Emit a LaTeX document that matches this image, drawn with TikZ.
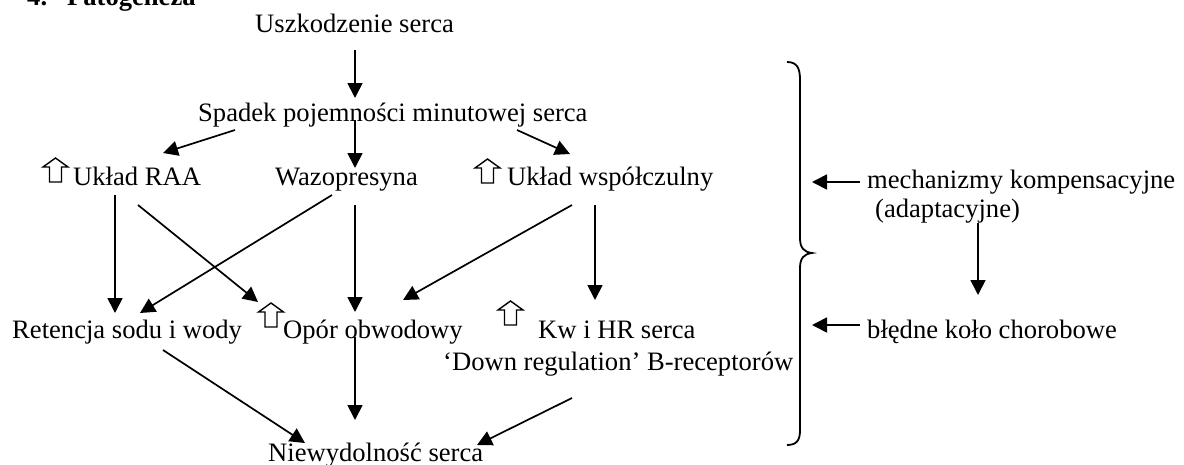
\documentclass[tikz,border=0pt]{standalone}
\usepackage{fontspec}
\setmainfont{Liberation Serif}
\usetikzlibrary{arrows.meta}
\begin{document}
\begin{tikzpicture}[x=1pt,y=-1pt,
  lbl/.style={anchor=base west,inner sep=0pt,font=\fontsize{26.6pt}{32pt}\selectfont},
  conn/.style={line width=1.7pt,-{Triangle[length=15pt,width=15pt]}},
  bracestyle/.style={line width=1.8pt},
  hollowup/.pic={\draw[line width=1.4pt,line join=miter] (-6,0) -- (-6,-15) -- (-12.5,-15) -- (0,-24) -- (12.5,-15) -- (6,-15) -- (6,0) -- cycle;}
]
\clip (0,0) rectangle (1184,464);
\fill[white] (0,0) rectangle (1184,464);

% texts
\node[lbl] (title) at (27,5) {\bfseries 4.\hspace{20pt}Patogeneza};
\node[lbl] (usz) at (255,32) {Uszkodzenie serca};
\node[lbl] (spadek) at (198,121) {Spadek pojemności minutowej serca};
\node[lbl] (raa) at (73,185) {Układ RAA};
\node[lbl] (wazo) at (275,185) {Wazopresyna};
\node[lbl] (wsp) at (507,185) {Układ współczulny};
\node[lbl] (ret) at (12,338) {Retencja sodu i wody};
\node[lbl] (opor) at (283,338) {Opór obwodowy};
\node[lbl] (kw) at (538,338) {Kw i HR serca};
\node[lbl] (down) at (443,370) {‘Down regulation’ B-receptorów};
\node[lbl] (niew) at (268,461) {Niewydolność serca};
\node[lbl] (mech) at (867,188) {mechanizmy kompensacyjne};
\node[lbl] (adapt) at (875,217) {(adaptacyjne)};
\node[lbl] (bledne) at (867,338) {błędne koło chorobowe};

% hollow up arrows
\pic at (55.5,182) {hollowup};
\pic at (487.5,183) {hollowup};
\pic at (271,327) {hollowup};
\pic at (510.5,325) {hollowup};

% connector end points
\coordinate (a1s) at (355,50);  \coordinate (a1e) at (355,98);
\coordinate (a2s) at (235,130); \coordinate (a2e) at (163,153);
\coordinate (a3s) at (355,120); \coordinate (a3e) at (355,168);
\coordinate (a4s) at (517,130); \coordinate (a4e) at (570,154);
\coordinate (a5s) at (115,195); \coordinate (a5e) at (115,313);
\coordinate (a6s) at (138,205); \coordinate (a6e) at (258,302);
\coordinate (a7s) at (332,195); \coordinate (a7e) at (140,313);
\coordinate (a8s) at (355,205); \coordinate (a8e) at (355,312);
\coordinate (a9s) at (572,205); \coordinate (a9e) at (403,300);
\coordinate (a10s) at (595,205); \coordinate (a10e) at (595,300);
\coordinate (a11s) at (163,350); \coordinate (a11e) at (305,443);
\coordinate (a12s) at (355,337); \coordinate (a12e) at (355,420);
\coordinate (a13s) at (572,398); \coordinate (a13e) at (477,445);
\coordinate (a14s) at (860,182); \coordinate (a14e) at (812,182);
\coordinate (a15s) at (978,223); \coordinate (a15e) at (978,295);
\coordinate (a16s) at (860,325); \coordinate (a16e) at (812,325);

\foreach \i in {1,...,16} {\draw[conn] (a\i s) -- (a\i e);}

% brace
\draw[bracestyle] (787,62) .. controls (797,62) and (800,68) .. (800,80) -- (800,238)
  .. controls (800,248) and (804,252) .. (812,253)
  .. controls (804,254) and (800,258) .. (800,268) -- (800,430)
  .. controls (800,440) and (797,445) .. (787,445);
\end{tikzpicture}
\end{document}
